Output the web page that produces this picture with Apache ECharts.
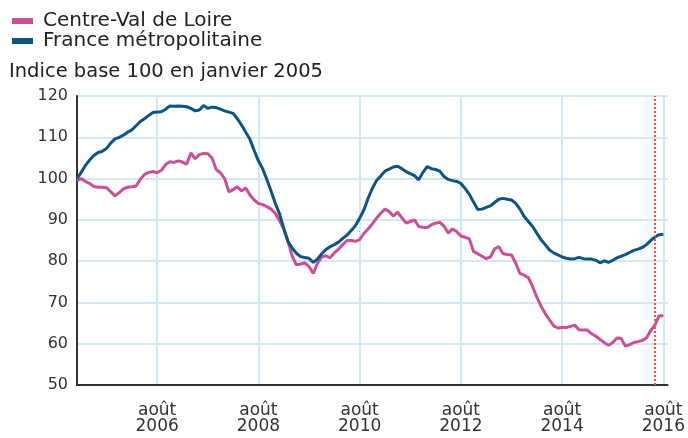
<!DOCTYPE html>
<html>
<head>
<meta charset="utf-8">
<script src="https://cdn.jsdelivr.net/npm/echarts@6/dist/echarts.min.js"></script>
<style>
html,body{margin:0;padding:0;background:#fff;}
#chart{width:688px;height:438px;}
</style>
</head>
<body>
<div id="chart"></div>
<script>
// Monthly data, January 2005 to August 2016 (index base 100 = January 2005)
var startYear = 2005;
var monthCount = 141; // Jan 2005 .. Sep 2016 (axis end)
var seriesNames = ['Centre-Val de Loire', 'France métropolitaine'];
var centreValDeLoire = [
  99.5,100,99.3,98.8,98.1,97.9,97.9,97.8,96.8,95.8,96.6,97.5,
  97.9,98,98.2,99.8,101,101.5,101.7,101.4,102,103.4,104.1,103.9,
  104.3,104,103.5,106.2,104.8,105.8,106.1,106,105,102.2,101.4,100,
  96.8,97.3,98,97,97.7,96,94.8,94,93.7,93.2,92.6,91.6,
  89.8,87.8,84.8,81.3,79.1,79.3,79.6,78.7,77,79.5,81,81.3,
  80.8,82,82.9,84,85,85,84.8,85.2,86.7,87.8,89,90.4,
  91.6,92.6,92,90.9,91.9,90.5,89.2,89.6,90,88.4,88.2,88.1,
  88.8,89.2,89.4,88.5,86.8,87.8,87.2,86.1,85.8,85.4,82.3,81.8,
  81.2,80.6,81,83,83.5,81.8,81.6,81.5,79.5,77,76.6,76,
  73.8,71.3,69.1,67.3,65.8,64.3,63.8,63.9,63.9,64.2,64.5,63.4,
  63.3,63.3,62.4,61.8,61,60.3,59.6,60.3,61.4,61.3,59.4,59.8,
  60.3,60.5,60.8,61.4,63.2,64.5,66.8,66.8
];
var franceMetropolitaine = [
  100,101.5,103.2,104.5,105.6,106.3,106.6,107.3,108.6,109.6,110,110.5,
  111.2,111.8,112.8,113.8,114.5,115.3,116,116.1,116.2,116.8,117.6,117.5,
  117.6,117.5,117.4,117,116.4,116.6,117.7,117,117.3,117.2,116.8,116.4,
  116.1,115.8,114.5,113,111.2,109.5,106.8,104.3,102.4,99.8,97,94,
  91.5,88,84.8,83.2,81.9,81.1,80.9,80.7,79.7,80.5,81.8,82.8,
  83.5,84,84.6,85.5,86.3,87.4,88.6,90.4,92.4,95.2,97.6,99.5,
  100.6,101.8,102.3,102.8,103,102.4,101.7,101.2,100.7,99.7,101.5,102.9,
  102.4,102.2,101.8,100.5,99.8,99.5,99.3,98.8,97.6,96.2,94.3,92.5,
  92.6,93,93.4,94.2,95,95.2,95,94.8,94,92.6,90.8,89.6,
  88.4,86.8,85.2,84,82.7,82,81.5,81,80.7,80.5,80.6,80.9,
  80.6,80.5,80.5,80.2,79.6,80.1,79.7,80.2,80.8,81.2,81.6,82.1,
  82.6,82.9,83.3,84,85,85.9,86.4,86.5
];
var monthNames = ['janv.','févr.','mars','avril','mai','juin','juil.','août','sept.','oct.','nov.','déc.'];
var yTicks = [50,60,70,80,90,100,110,120];
var markerMonth = '2016-06';

var categories = [];
for (var i = 0; i < monthCount; i++) {
  var y = startYear + Math.floor(i / 12);
  var m = i % 12;
  categories.push(y + '-' + (m < 9 ? '0' : '') + (m + 1));
}
function isTick(index) {
  var y = startYear + Math.floor(index / 12);
  var m = index % 12;
  return m === 7 && y % 2 === 0;
}

var chart = echarts.init(document.getElementById('chart'), null, {renderer: 'canvas'});
chart.setOption({
  animation: false,
  backgroundColor: '#ffffff',
  textStyle: {fontFamily: 'DejaVu Sans'},
  title: {
    text: 'Indice base 100 en janvier 2005',
    left: 9, top: 62, padding: 0,
    textStyle: {fontFamily: 'DejaVu Sans', fontSize: 19.5, fontWeight: 'normal', color: '#222'}
  },
  legend: {
    orient: 'vertical',
    left: 12, top: 11, padding: 0,
    itemWidth: 21, itemHeight: 6, itemGap: 0,
    icon: 'rect',
    data: seriesNames,
    textStyle: {fontFamily: 'DejaVu Sans', fontSize: 20, color: '#222', lineHeight: 20, padding: [0,0,0,5]}
  },
  grid: {left: 77, top: 96, right: 18, bottom: 53, containLabel: false},
  xAxis: {
    type: 'category',
    data: categories,
    boundaryGap: false,
    axisLine: {show: true, lineStyle: {color: '#333', width: 2}},
    axisTick: {show: false},
    axisLabel: {
      interval: function (index) { return isTick(index); },
      margin: 18,
      fontFamily: 'DejaVu Sans', fontSize: 17, lineHeight: 16, color: '#333',
      formatter: function (v) {
        var parts = v.split('-');
        return monthNames[parseInt(parts[1], 10) - 1] + '\n' + parts[0];
      }
    },
    splitLine: {
      show: true,
      interval: function (index) { return isTick(index); },
      lineStyle: {color: '#d3e7f5', width: 2}
    }
  },
  yAxis: {
    type: 'value',
    min: yTicks[0], max: yTicks[yTicks.length - 1], interval: 10,
    axisLine: {show: true, lineStyle: {color: '#333', width: 2}},
    axisTick: {show: false},
    axisLabel: {margin: 9, fontFamily: 'DejaVu Sans', fontSize: 16, color: '#333'},
    splitLine: {show: true, lineStyle: {color: '#d3e7f5', width: 2}}
  },
  series: [
    {
      name: seriesNames[0], type: 'line', data: centreValDeLoire,
      showSymbol: false, symbol: 'none', color: '#cc4f95',
      lineStyle: {width: 3, color: '#cc4f95'},
      markLine: {
        silent: true, symbol: 'none', label: {show: false},
        lineStyle: {type: 'dotted', color: '#f0553f', width: 2},
        data: [{xAxis: markerMonth}]
      }
    },
    {
      name: seriesNames[1], type: 'line', data: franceMetropolitaine,
      showSymbol: false, symbol: 'none', color: '#0d5486',
      lineStyle: {width: 3, color: '#0d5486'}
    }
  ]
});
</script>
</body>
</html>
